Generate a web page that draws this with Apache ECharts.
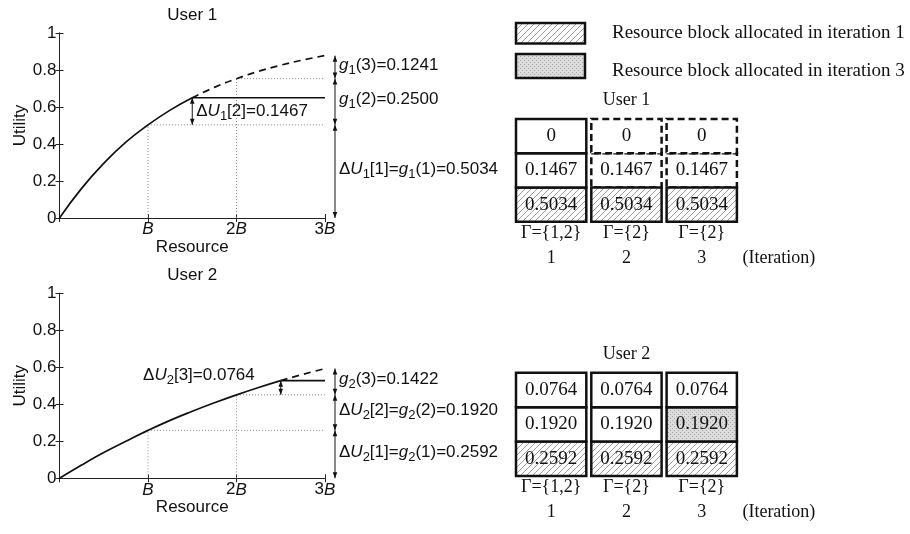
<!DOCTYPE html>
<html>
<head>
<meta charset="utf-8">
<script src="https://cdn.jsdelivr.net/npm/echarts@6/dist/echarts.min.js"></script>
<style>
html, body { margin: 0; padding: 0; background: #fff; }
#main { width: 910px; height: 534px; }
</style>
</head>
<body>
<div id="main"></div>
<script>
// resource axis in units of B, utility
var resourceX = [0, 0.25, 0.5, 0.75, 1, 1.25, 1.5, 1.75, 2, 2.25, 2.5, 2.75, 3];
var user1Utility = [0, 0.16, 0.295, 0.41, 0.503, 0.583, 0.65, 0.706, 0.753, 0.793, 0.826, 0.854, 0.878];
var user2Utility = [0, 0.072, 0.139, 0.2, 0.259, 0.313, 0.362, 0.408, 0.451, 0.491, 0.528, 0.562, 0.593];
var resourceTicks = ['', 'B', '2B', '3B'];
// resource given to each user (in B) and marginal gains
var user1Alloc = 1.5;
var user2Alloc = 2.5;
var user1Gain = [0.5034, 0.2500, 0.1241];
var user2Gain = [0.2592, 0.1920, 0.1422];
var user1Delta = 0.1467;
var user2Delta = 0.0764;
// block tables (bottom to top) and iteration each block was allocated in (0 = never)
var user1Blocks = [0.5034, 0.1467, 0];
var user1AllocIter = [1, 0, 0];
var user2Blocks = [0.2592, 0.1920, 0.0764];
var user2AllocIter = [1, 3, 0];
var iterations = ['1', '2', '3'];
var gammaMembers = [[1, 2], [2], [2]];
var legendTexts = ['Resource block allocated in iteration 1', 'Resource block allocated in iteration 3'];

var sans = '"Liberation Sans", Arial, sans-serif';
var serif = '"Liberation Serif", "Times New Roman", serif';
var ink = '#111';
var fs = 17;

// fill patterns
function makeHatch() {
    var c = document.createElement('canvas');
    c.width = c.height = 6;
    var ctx = c.getContext('2d');
    ctx.fillStyle = '#fff';
    ctx.fillRect(0, 0, 6, 6);
    ctx.strokeStyle = '#9c9c9c';
    ctx.lineWidth = 1;
    ctx.beginPath();
    ctx.moveTo(0, 6); ctx.lineTo(6, 0);
    ctx.moveTo(-1, 1); ctx.lineTo(1, -1);
    ctx.moveTo(5, 7); ctx.lineTo(7, 5);
    ctx.stroke();
    return c;
}
function makeDots() {
    var c = document.createElement('canvas');
    c.width = c.height = 4;
    var ctx = c.getContext('2d');
    ctx.fillStyle = '#dcdcdc';
    ctx.fillRect(0, 0, 4, 4);
    ctx.fillStyle = '#a6a6a6';
    ctx.fillRect(0, 0, 1, 1);
    ctx.fillRect(2, 2, 1, 1);
    return c;
}
var fillOf = {
    1: { image: makeHatch(), repeat: 'repeat' },
    3: { image: makeDots(), repeat: 'repeat' }
};

function pairs(xs, ys, from, to) {
    var out = [];
    for (var i = from; i <= to; i++) out.push([xs[i], ys[i]]);
    return out;
}
function dU(u, n) { return '\u0394{i|U}{s|' + u + '}[' + n + ']'; }
function g(u, m) { return '{i|g}{s|' + u + '}(' + m + ')'; }
function num(v) { return v.toFixed(4); }

var richSub = {
    i: { fontFamily: sans, fontSize: fs, fontStyle: 'italic', fill: ink },
    s: { fontFamily: sans, fontSize: 13, fill: ink, padding: [10, 0, 0, 0] }
};

function noteText(x, y, txt, align) {
    return {
        type: 'text', z2: 5,
        style: {
            legacy: false, text: txt, x: x, y: y, align: align, verticalAlign: 'middle',
            fontFamily: sans, fontSize: fs, fill: ink, rich: richSub
        }
    };
}
function arrowShapes(x, yTop, yBot) {
    var h = 6, w = 2.3;
    return [
        { type: 'line', shape: { x1: x, y1: yTop, x2: x, y2: yBot }, style: { stroke: ink, lineWidth: 1 } },
        { type: 'polygon', shape: { points: [[x, yTop], [x - w, yTop + h], [x + w, yTop + h]] }, style: { fill: ink } },
        { type: 'polygon', shape: { points: [[x, yBot], [x - w, yBot - h], [x + w, yBot - h]] }, style: { fill: ink } }
    ];
}

// arrows beside the plot, one per gain level
function gainArrows(gain, notes, xIdx, yIdx) {
    var data = [], lo = 0;
    for (var k = 0; k < gain.length; k++) {
        data.push([3, lo, lo + gain[k]]);
        lo += gain[k];
    }
    return {
        type: 'custom', xAxisIndex: xIdx, yAxisIndex: yIdx, data: data, clip: false,
        renderItem: function(params, api) {
            var p0 = api.coord([api.value(0), api.value(1)]);
            var p1 = api.coord([api.value(0), api.value(2)]);
            var x = p0[0] + 10;
            var kids = arrowShapes(x, p1[1], p0[1]);
            kids.push(noteText(x + 4, (p0[1] + p1[1]) / 2 - 2, notes[params.dataIndex], 'left'));
            return { type: 'group', children: kids };
        }
    };
}
// arrow inside the plot for the last increment
function deltaArrow(x, base, delta, note, side, xIdx, yIdx) {
    return {
        type: 'custom', xAxisIndex: xIdx, yAxisIndex: yIdx, data: [[x, base, base + delta]], clip: false,
        renderItem: function(params, api) {
            var p0 = api.coord([api.value(0), api.value(1)]);
            var p1 = api.coord([api.value(0), api.value(2)]);
            var kids = arrowShapes(p0[0], p1[1], p0[1]);
            if (side === 'right') {
                kids.push(noteText(p0[0] + 4, (p0[1] + p1[1]) / 2, note, 'left'));
            } else {
                kids.push(noteText(p0[0] - 26, p1[1] - 5, note, 'right'));
            }
            return { type: 'group', children: kids };
        }
    };
}

function curveSeries(util, alloc, gain, delta, xIdx, yIdx) {
    var cut = resourceX.indexOf(alloc);
    var last = resourceX.length - 1;
    var lvl1 = gain[0], lvl2 = gain[0] + gain[1];
    var flat = gain[0] + (alloc > 2 ? gain[1] : 0) + delta;
    var dotted = { color: '#8a8a8a', width: 1, type: [1, 2] };
    return [
        { type: 'line', xAxisIndex: xIdx, yAxisIndex: yIdx, symbol: 'none', lineStyle: dotted,
            data: [[1, 0], [1, lvl1], [3, lvl1]] },
        { type: 'line', xAxisIndex: xIdx, yAxisIndex: yIdx, symbol: 'none', lineStyle: dotted,
            data: [[2, 0], [2, lvl2], [3, lvl2]] },
        { type: 'line', xAxisIndex: xIdx, yAxisIndex: yIdx, symbol: 'none', smooth: true,
            lineStyle: { color: ink, width: 1.7 }, data: pairs(resourceX, util, 0, cut) },
        { type: 'line', xAxisIndex: xIdx, yAxisIndex: yIdx, symbol: 'none', smooth: true,
            lineStyle: { color: ink, width: 1.7, type: [7, 5] }, data: pairs(resourceX, util, cut, last) },
        { type: 'line', xAxisIndex: xIdx, yAxisIndex: yIdx, symbol: 'none',
            lineStyle: { color: ink, width: 1.7 }, data: [[alloc, flat], [3, flat]] }
    ];
}

function cellSeries(blocks, allocIter, user, xIdx, yIdx) {
    var data = [], fills = [], solids = [];
    for (var c = 0; c < iterations.length; c++) {
        for (var r = 0; r < blocks.length; r++) {
            var got = allocIter[r] > 0 && allocIter[r] <= c + 1;
            data.push([c, r, blocks[r]]);
            fills.push(got ? fillOf[allocIter[r]] : '#fff');
            solids.push(got || gammaMembers[c].indexOf(user) >= 0);
        }
    }
    return {
        type: 'custom', xAxisIndex: xIdx, yAxisIndex: yIdx, data: data,
        renderItem: function(params, api) {
            var c = api.value(0), r = api.value(1), v = api.value(2);
            var top = api.coord([c, r + 1]);
            var bot = api.coord([c, r]);
            var band = api.size([1, 0])[0];
            var solid = solids[params.dataIndex];
            return {
                type: 'group',
                children: [{
                    type: 'rect', z2: solid ? 2 : 1,
                    shape: { x: top[0] - band / 2 + 2.5, y: top[1], width: band - 5, height: bot[1] - top[1] },
                    style: { fill: fills[params.dataIndex], stroke: ink, lineWidth: 2.5, lineDash: solid ? null : [7, 4] }
                }, {
                    type: 'text', z2: 3,
                    style: {
                        legacy: false, text: v === 0 ? '0' : num(v), x: top[0], y: (top[1] + bot[1]) / 2,
                        align: 'center', verticalAlign: 'middle', fontFamily: serif, fontSize: 19, fill: ink
                    }
                }]
            };
        }
    };
}

var axisCol = '#222';
var txtSans = { fontFamily: sans, fontSize: fs, color: ink };
var txtSerif = { fontFamily: serif, fontSize: 18, color: ink };

function resourceAxis(grid) {
    return {
        gridIndex: grid, type: 'value', min: 0, max: 3, interval: 1, position: 'bottom',
        name: 'Resource', nameLocation: 'middle', nameGap: 12, nameTextStyle: txtSans,
        axisLine: { lineStyle: { color: axisCol, width: 1 } },
        axisTick: { inside: true, length: 4, lineStyle: { color: axisCol } },
        splitLine: { show: false },
        axisLabel: {
            margin: 3, fontFamily: sans, fontSize: fs, color: ink,
            formatter: function(v) { return resourceTicks[Math.round(v)].replace('B', '{i|B}'); },
            rich: { i: { fontFamily: sans, fontSize: fs, fontStyle: 'italic', color: ink } }
        }
    };
}
function topAxis(grid, title) {
    return {
        gridIndex: grid, type: 'value', min: 0, max: 3, interval: 1, position: 'top',
        name: title, nameLocation: 'middle', nameGap: 9, nameTextStyle: txtSans,
        axisLine: { lineStyle: { color: axisCol, width: 1 } },
        axisTick: { inside: true, length: 4, lineStyle: { color: axisCol } },
        axisLabel: { show: false }, splitLine: { show: false }
    };
}
function utilityAxis(grid) {
    return {
        gridIndex: grid, type: 'value', min: 0, max: 1, interval: 0.2, position: 'left',
        name: 'Utility', nameLocation: 'middle', nameGap: 31, nameRotate: 90, nameTextStyle: txtSans,
        axisLine: { show: true, lineStyle: { color: axisCol, width: 1 } },
        axisTick: { show: true, inside: true, length: 4, lineStyle: { color: axisCol } },
        axisLabel: { margin: 3, fontFamily: sans, fontSize: fs, color: ink },
        splitLine: { show: false }
    };
}
function rightAxis(grid) {
    return {
        gridIndex: grid, type: 'value', min: 0, max: 1, interval: 0.2, position: 'right',
        axisLine: { show: true, lineStyle: { color: axisCol, width: 1 } },
        axisTick: { show: true, inside: true, length: 4, lineStyle: { color: axisCol } },
        axisLabel: { show: false }, splitLine: { show: false }
    };
}
function gammaAxis(grid) {
    return {
        gridIndex: grid, type: 'category', position: 'bottom', offset: 11.5,
        data: gammaMembers.map(function(m) { return '\u0393={' + m.join(',') + '}'; }),
        axisLine: { show: false }, axisTick: { show: false },
        axisLabel: { interval: 0, hideOverlap: false, margin: 0, verticalAlign: 'middle', fontFamily: serif, fontSize: 18, color: ink }
    };
}
function iterAxis(grid) {
    return {
        gridIndex: grid, type: 'category', position: 'bottom', offset: 36.5, data: iterations,
        name: '(Iteration)', nameLocation: 'end', nameGap: 3, nameTextStyle: txtSerif,
        axisLine: { show: false }, axisTick: { show: false },
        axisLabel: { interval: 0, margin: 0, verticalAlign: 'middle', fontFamily: serif, fontSize: 18, color: ink }
    };
}
function blockAxis(grid) {
    return { gridIndex: grid, type: 'value', min: 0, max: 3, show: false };
}

var notes1 = [dU(1, 1) + '=' + g(1, 1) + '=' + num(user1Gain[0]), g(1, 2) + '=' + num(user1Gain[1]), g(1, 3) + '=' + num(user1Gain[2])];
var notes2 = [dU(2, 1) + '=' + g(2, 1) + '=' + num(user2Gain[0]), dU(2, 2) + '=' + g(2, 2) + '=' + num(user2Gain[1]), g(2, 3) + '=' + num(user2Gain[2])];

var myChart = echarts.init(document.getElementById('main'));
var option = {
    animation: false,
    backgroundColor: '#fff',
    grid: [
        { left: 59.5, top: 33, width: 265.5, height: 185 },
        { left: 59.5, top: 293.3, width: 265.5, height: 185 },
        { left: 513.5, top: 119, width: 225.9, height: 102.7 },
        { left: 513.5, top: 372.7, width: 225.9, height: 103.3 }
    ],
    xAxis: [
        resourceAxis(0), topAxis(0, 'User 1'),
        resourceAxis(1), topAxis(1, 'User 2'),
        gammaAxis(2), iterAxis(2),
        gammaAxis(3), iterAxis(3)
    ],
    yAxis: [
        utilityAxis(0), rightAxis(0),
        utilityAxis(1), rightAxis(1),
        blockAxis(2), blockAxis(3)
    ],
    graphic: [
        { type: 'rect', shape: { x: 516, y: 23, width: 69, height: 20.5 },
            style: { fill: fillOf[1], stroke: ink, lineWidth: 2.5 } },
        { type: 'rect', shape: { x: 516, y: 54, width: 69, height: 24 },
            style: { fill: fillOf[3], stroke: ink, lineWidth: 2.5 } },
        { type: 'text', style: { legacy: false, text: legendTexts[0], x: 612, y: 33.5, align: 'left', verticalAlign: 'middle', fontFamily: serif, fontSize: 19, fill: ink } },
        { type: 'text', style: { legacy: false, text: legendTexts[1], x: 612, y: 71.5, align: 'left', verticalAlign: 'middle', fontFamily: serif, fontSize: 19, fill: ink } },
        { type: 'text', style: { legacy: false, text: 'User 1', x: 626.5, y: 100, align: 'center', verticalAlign: 'middle', fontFamily: serif, fontSize: 18, fill: ink } },
        { type: 'text', style: { legacy: false, text: 'User 2', x: 626.5, y: 354, align: 'center', verticalAlign: 'middle', fontFamily: serif, fontSize: 18, fill: ink } }
    ],
    series: [].concat(
        curveSeries(user1Utility, user1Alloc, user1Gain, user1Delta, 0, 0),
        curveSeries(user2Utility, user2Alloc, user2Gain, user2Delta, 2, 2),
        [
            gainArrows(user1Gain, notes1, 0, 0),
            gainArrows(user2Gain, notes2, 2, 2),
            deltaArrow(user1Alloc, user1Gain[0], user1Delta, dU(1, 2) + '=' + num(user1Delta), 'right', 0, 0),
            deltaArrow(user2Alloc, user2Gain[0] + user2Gain[1], user2Delta, dU(2, 3) + '=' + num(user2Delta), 'left', 2, 2),
            cellSeries(user1Blocks, user1AllocIter, 1, 4, 4),
            cellSeries(user2Blocks, user2AllocIter, 2, 6, 5)
        ]
    )
};
myChart.setOption(option);
window.addEventListener('resize', function() {
    myChart.resize();
});
</script>
</body>
</html>
